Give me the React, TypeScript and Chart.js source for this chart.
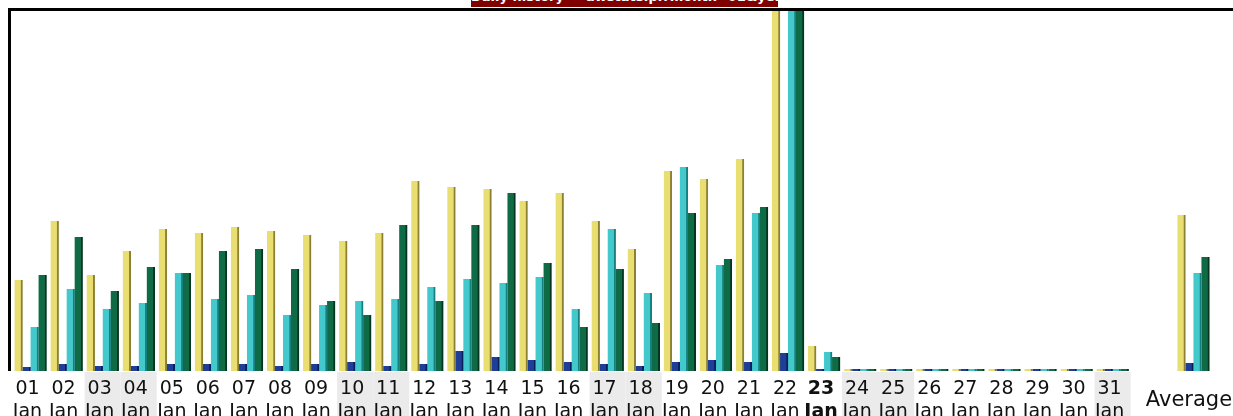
import { useEffect, useRef } from "react";
import { Chart, registerables } from "chart.js";

Chart.register(...registerables);

const dayLabels = ["01","02","03","04","05","06","07","08","09","10","11","12","13","14","15","16","17","18","19","20","21","22","23","24","25","26","27","28","29","30","31"];
const monthLabel = "Jan";
const averageLabel = "Average";
const todayLabel = "23";
const weekendDays = ["03","04","10","11","17","18","24","25","31"];

const visits = [91,150,96,120,142,138,144,140,136,130,138,190,184,182,170,178,150,122,200,192,212,360,25,0,0,0,0,0,0,0,0];
const pages = [4,7,5,5,7,7,7,5,7,9,5,7,20,14,11,9,7,5,9,11,9,18,1,0,0,0,0,0,0,0,0];
const hits = [44,82,62,68,98,72,76,56,66,70,72,84,92,88,94,62,142,78,204,106,158,360,19,0,0,0,0,0,0,0,0];
const bandwidth = [96,134,80,104,98,120,122,102,70,56,146,70,146,178,108,44,102,48,158,112,164,360,14,0,0,0,0,0,0,0,0];
const averages = [156, 8, 98, 114];

const bannerText = "Daily history — awstats.pl?month=01&year=2009";

const AVG_BAR_X = 33.24;
const AVG_TICK_X = 33.2;

const FONT = "'DejaVu Sans', Verdana, sans-serif";

export default function App() {
  const ref = useRef<HTMLCanvasElement | null>(null);

  useEffect(() => {
    if (!ref.current) return;
    const mk = (vals: number[], avg: number) =>
      vals.map((v, i) => ({ x: i + 1, y: v })).concat([{ x: AVG_BAR_X, y: avg }]);

    const series = [
      { label: "Visits", data: visits, avg: averages[0], bg: "#E9DE72", bd: "#8C8032" },
      { label: "Pages", data: pages, avg: averages[1], bg: "#1E3F98", bd: "#0B1E5A" },
      { label: "Hits", data: hits, avg: averages[2], bg: "#43C9CC", bd: "#17807F" },
      { label: "Bandwidth", data: bandwidth, avg: averages[3], bg: "#0E6B45", bd: "#053520" },
    ];

    const shadePlugin = {
      id: "shade",
      beforeDraw(chart: any) {
        const ctx = chart.ctx;
        const xs = chart.scales.x;
        ctx.save();
        ctx.fillStyle = "#EBEBEB";
        weekendDays.forEach((d) => {
          const idx = dayLabels.indexOf(d) + 1;
          const c = xs.getPixelForValue(idx);
          const half = (xs.getPixelForValue(idx + 1) - c) / 2;
          ctx.fillRect(c - half, chart.chartArea.bottom + 1, half * 2, chart.height - chart.chartArea.bottom);
        });
        ctx.restore();
      },
      afterDraw(chart: any) {
        const ctx = chart.ctx;
        ctx.save();
        ctx.fillStyle = "#000";
        ctx.fillRect(8, 8, chart.width - 8, 3);
        ctx.fillRect(8, 8, 3, chart.chartArea.bottom - 8);
        ctx.restore();
      },
    };

    const chart = new Chart(ref.current, {
      type: "bar",
      data: {
        datasets: series.map((s) => ({
          label: s.label,
          data: mk(s.data, s.avg) as any,
          backgroundColor: s.bg,
          borderColor: s.bd,
          borderWidth: { left: 0, right: 2, top: 0, bottom: 0 },
          borderSkipped: false,
          barThickness: 8,
          minBarLength: 2,
        })),
      },
      options: {
        animation: false,
        responsive: false,
        maintainAspectRatio: false,
        layout: { padding: { left: 11, top: 11, right: 0, bottom: 0 } },
        plugins: { legend: { display: false }, tooltip: { enabled: false } },
        scales: {
          x: {
            type: "linear",
            offset: false,
            min: 0.4594,
            max: 34.338,
            grid: { display: false, drawTicks: false },
            border: { display: false },
            afterBuildTicks: (axis: any) => {
              axis.ticks = dayLabels.map((_, i) => ({ value: i + 1 })).concat([{ value: AVG_TICK_X }]);
            },
            afterFit: (scale: any) => {
              scale.height = 45;
              scale.paddingLeft = 0;
              scale.paddingRight = 0;
            },
            ticks: {
              autoSkip: false,
              maxRotation: 0,
              minRotation: 0,
              padding: 7,
              labelOffset: -3,
              color: "#111",
              font: (ctx: any) => {
                const v = ctx.tick ? ctx.tick.value : 0;
                if (v === AVG_TICK_X) return { family: FONT, size: 21, lineHeight: "45px" };
                const bold = dayLabels[v - 1] === todayLabel;
                return { family: FONT, size: 19, lineHeight: "23px", weight: bold ? "bold" : "normal" };
              },
              callback: (value: any) => {
                if (value === AVG_TICK_X) return averageLabel;
                return [dayLabels[value - 1], monthLabel];
              },
            },
          },
          y: {
            display: false,
            min: 0,
            max: 360,
          },
        },
      },
      plugins: [shadePlugin],
    });
    return () => chart.destroy();
  }, []);

  return (
    <div style={{ position: "fixed", left: 0, top: 0, width: 1233, height: 416, background: "#fff", overflow: "hidden" }}>
      <canvas ref={ref} width={1233} height={416} style={{ display: "block" }} />
      <div
        style={{
          position: "absolute",
          left: 471,
          top: 0,
          width: 307,
          height: 7,
          background: "#800000",
          overflow: "hidden",
          color: "#fff",
          fontFamily: FONT,
          fontWeight: "bold",
          fontSize: 13,
          lineHeight: "13px",
          whiteSpace: "nowrap",
          textAlign: "center",
        }}
      >
        <div style={{ marginTop: -10 }}>{bannerText}</div>
      </div>
    </div>
  );
}
